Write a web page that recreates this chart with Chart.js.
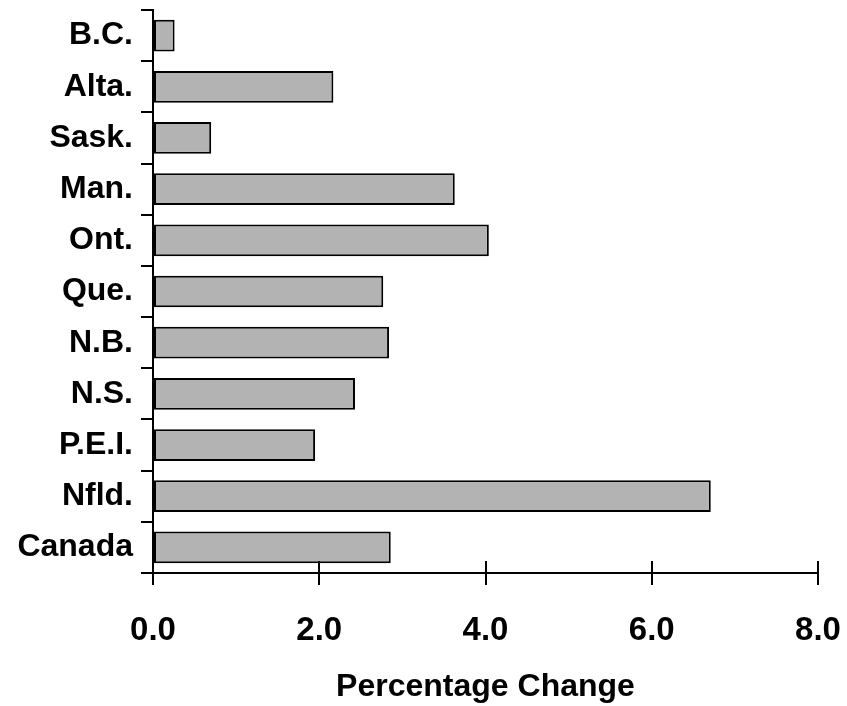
<!DOCTYPE html>
<html>
<head>
<meta charset="utf-8">
<script src="https://cdn.jsdelivr.net/npm/chart.js@4/dist/chart.umd.min.js"></script>
<style>
  html, body { margin: 0; padding: 0; background: #fff; }
  #wrap { width: 847px; height: 706px; }
</style>
</head>
<body>
<div id="wrap"><canvas id="chart" width="847" height="706"></canvas></div>
<script>
"use strict";

// provinces, top to bottom
const regions = ["B.C.", "Alta.", "Sask.", "Man.", "Ont.", "Que.", "N.B.", "N.S.", "P.E.I.", "Nfld.", "Canada"];
const pctChange = [0.26, 2.17, 0.70, 3.63, 4.04, 2.77, 2.84, 2.43, 1.95, 6.71, 2.86];
const xTicks = [0, 2, 4, 6, 8];
const xTitle = "Percentage Change";

const FONT = "'Liberation Sans', Arial, sans-serif";

// x ticks in the reference cross the axis line, draw the upper half here
const crossTicks = {
  id: "crossTicks",
  afterDraw(chart) {
    const x = chart.scales.x;
    const ctx = chart.ctx;
    ctx.save();
    ctx.strokeStyle = "#000";
    ctx.lineWidth = 2;
    ctx.beginPath();
    xTicks.forEach((v) => {
      const px = Math.round(x.getPixelForValue(v));
      ctx.moveTo(px, x.top);
      ctx.lineTo(px, x.top - 12);
    });
    ctx.stroke();
    ctx.restore();
  },
};

new Chart(document.getElementById("chart"), {
  type: "bar",
  data: {
    labels: regions,
    datasets: [{
      data: pctChange,
      backgroundColor: "#b3b3b3",
      borderColor: "#000",
      borderWidth: 2,
      borderSkipped: false,
      categoryPercentage: 1,
      barPercentage: 0.62,
    }],
  },
  options: {
    indexAxis: "y",
    responsive: false,
    animation: false,
    layout: { padding: { top: 10, right: 29, left: 0, bottom: 0 } },
    plugins: { legend: { display: false }, tooltip: { enabled: false } },
    scales: {
      x: {
        min: 0,
        max: 8,
        afterBuildTicks: (s) => { s.ticks = xTicks.map((v) => ({ value: v })); },
        afterFit: (s) => { s.height = 133; s.paddingLeft = 0; s.paddingRight = 0; },
        border: { color: "#000", width: 2 },
        grid: { drawOnChartArea: false, tickLength: 12, color: "#000", lineWidth: 2 },
        ticks: {
          color: "#000",
          padding: 26,
          font: { family: FONT, size: 33, weight: "bold" },
          callback: (v) => Number(v).toFixed(1),
        },
        title: {
          display: true,
          text: xTitle,
          color: "#000",
          padding: { top: 10, bottom: 0 },
          font: { family: FONT, size: 32, weight: "bold" },
        },
      },
      y: {
        afterFit: (s) => { s.width = 153; s.paddingTop = 0; s.paddingBottom = 0; },
        border: { color: "#000", width: 2 },
        grid: { drawOnChartArea: false, offset: true, tickLength: 12, color: "#000", lineWidth: 2 },
        ticks: {
          color: "#000",
          padding: 8,
          font: { family: FONT, size: 32, weight: "bold" },
        },
      },
    },
  },
  plugins: [crossTicks],
});
</script>
</body>
</html>
